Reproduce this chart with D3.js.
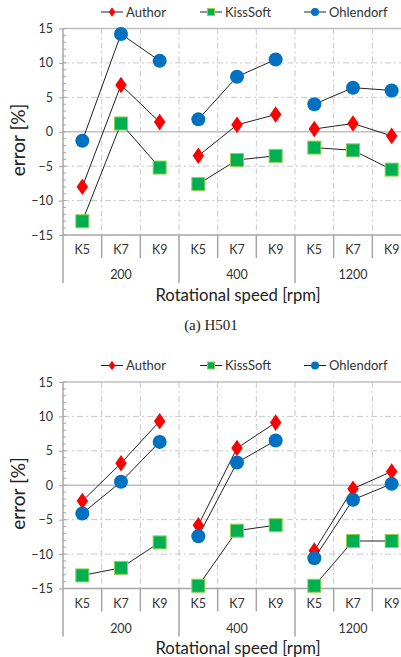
<!DOCTYPE html>
<html>
<head>
<meta charset="utf-8">
<script src="https://cdn.jsdelivr.net/npm/d3@7"></script>
<style>
  body { margin: 0; background: #fff; }
  svg { display: block; font-family: Lato, "Open Sans", sans-serif; }
</style>
</head>
<body>
<div id="chart"></div>
<script>
// categories
const speeds = ["200", "400", "1200"];
const kinds = ["K5", "K7", "K9"];
const seriesNames = ["Author", "KissSoft", "Ohlendorf"];
const yTicks = [-15, -10, -5, 0, 5, 10, 15];

// (a) H501 values, order 200 K5..K9, 400 K5..K9, 1200 K5..K9
const aAuthor = [-8.0, 6.8, 1.4, -3.5, 1.0, 2.5, 0.4, 1.2, -0.6];
const aKissSoft = [-13.0, 1.2, -5.2, -7.6, -4.1, -3.5, -2.3, -2.7, -5.5];
const aOhlendorf = [-1.3, 14.2, 10.3, 1.8, 8.0, 10.5, 4.0, 6.4, 6.0];

// (b) values
const bAuthor = [-2.3, 3.2, 9.3, -5.8, 5.4, 9.1, -9.5, -0.5, 2.0];
const bKissSoft = [-13.1, -12.0, -8.3, -14.6, -6.6, -5.8, -14.6, -8.1, -8.1];
const bOhlendorf = [-4.1, 0.5, 6.3, -7.4, 3.3, 6.5, -10.6, -2.1, 0.2];

const width = 401, height = 657;
const categories = [];
speeds.forEach(s => kinds.forEach(k => categories.push(s + "|" + k)));

const svg = d3.select("#chart").append("svg")
    .attr("width", width)
    .attr("height", height);

const colors = { Author: "#ff0000", KissSoft: "#00b050", Ohlendorf: "#0070c0" };
const axisGray = "#a6a6a6";

function marker(g, name, cx, cy, s) {
    if (name === "Author") {
        g.append("path")
            .attr("d", d3.symbol(d3.symbolDiamond, s * s * 0.55)())
            .attr("transform", `translate(${cx},${cy}) scale(1.2,1)`)
            .attr("fill", colors.Author);
    } else if (name === "KissSoft") {
        g.append("rect")
            .attr("x", cx - s / 2).attr("y", cy - s / 2)
            .attr("width", s).attr("height", s)
            .attr("fill", colors.KissSoft)
            .attr("stroke", "#92d050").attr("stroke-width", 1);
    } else {
        g.append("circle")
            .attr("cx", cx).attr("cy", cy).attr("r", s / 2)
            .attr("fill", colors.Ohlendorf);
    }
}

function drawChart(top, values, caption) {
    const g = svg.append("g");
    const plotTop = top + 28.5, plotBottom = top + 235;

    const x = d3.scaleBand().domain(categories).range([63, 411]);
    const y = d3.scaleLinear().domain([-15, 15]).range([plotBottom, plotTop]);

    // legend
    const legendX = [101, 200, 304];
    seriesNames.forEach((name, i) => {
        const lx = legendX[i], ly = top + 12;
        g.append("line").attr("x1", lx).attr("x2", lx + 22)
            .attr("y1", ly).attr("y2", ly)
            .attr("stroke", "#222").attr("stroke-width", 1);
        marker(g, name, lx + 11, ly, name === "Ohlendorf" ? 8 : 7);
        g.append("text").attr("x", lx + 25).attr("y", ly)
            .attr("dy", "0.35em").attr("font-size", 13).attr("fill", "#333")
            .text(name);
    });

    // horizontal gridlines
    g.append("g").selectAll("line")
        .data(yTicks.filter(d => d !== 0 && d !== -15 && d !== 15))
        .join("line")
        .attr("x1", 63).attr("x2", 411)
        .attr("y1", d => y(d)).attr("y2", d => y(d))
        .attr("stroke", "#c8c8c8").attr("stroke-dasharray", "6,3,2,3");

    // vertical gridlines
    g.append("g").selectAll("line")
        .data(categories.slice(1))
        .join("line")
        .attr("x1", d => x(d)).attr("x2", d => x(d))
        .attr("y1", plotTop).attr("y2", plotBottom)
        .attr("stroke", "#c8c8c8").attr("stroke-dasharray", "6,3,2,3");

    // top border, zero line
    [15, 0].forEach(v => {
        g.append("line").attr("x1", 63).attr("x2", 411)
            .attr("y1", y(v)).attr("y2", y(v))
            .attr("stroke", "#bfbfbf").attr("stroke-width", 1.5);
    });

    // y axis
    const yAxis = g.append("g")
        .attr("transform", "translate(63,0)")
        .call(d3.axisLeft(y).tickValues(yTicks).tickSize(4).tickPadding(6));
    yAxis.select(".domain").remove();
    yAxis.selectAll("line").attr("stroke", axisGray);
    yAxis.selectAll("text").attr("font-size", 12.5).attr("fill", "#333")
        .attr("font-family", "Lato, sans-serif");
    // minor ticks
    g.append("g").selectAll("line")
        .data(d3.range(-15, 16, 1))
        .join("line")
        .attr("x1", 63).attr("x2", 66)
        .attr("y1", d => y(d)).attr("y2", d => y(d))
        .attr("stroke", axisGray);
    g.append("line").attr("x1", 63).attr("x2", 63)
        .attr("y1", plotTop).attr("y2", top + 283)
        .attr("stroke", axisGray).attr("stroke-width", 1.5);

    // x axis line
    g.append("line").attr("x1", 63).attr("x2", 411)
        .attr("y1", plotBottom).attr("y2", plotBottom)
        .attr("stroke", axisGray).attr("stroke-width", 1.5);

    // category separators
    categories.slice(1).forEach((c, i) => {
        const isGroup = (i + 1) % 3 === 0;
        g.append("line").attr("x1", x(c)).attr("x2", x(c))
            .attr("y1", plotBottom).attr("y2", top + (isGroup ? 283 : 258))
            .attr("stroke", axisGray).attr("stroke-width", 1.5);
    });
    g.append("line").attr("x1", 411).attr("x2", 411)
        .attr("y1", plotBottom).attr("y2", top + 283)
        .attr("stroke", axisGray).attr("stroke-width", 1.5);

    // category labels
    g.append("g").selectAll("text")
        .data(categories)
        .join("text")
        .attr("x", d => x(d) + x.bandwidth() / 2)
        .attr("y", top + 250).attr("dy", "0.35em")
        .attr("text-anchor", "middle").attr("font-size", 12.5).attr("fill", "#333")
        .text(d => d.split("|")[1]);

    // group labels
    g.append("g").selectAll("text")
        .data(speeds)
        .join("text")
        .attr("x", s => x(s + "|K7") + x.bandwidth() / 2)
        .attr("y", top + 275).attr("dy", "0.35em")
        .attr("text-anchor", "middle").attr("font-size", 12.5).attr("fill", "#333")
        .text(s => s);

    // axis titles
    g.append("text")
        .attr("transform", `translate(18,${top + 140}) rotate(-90)`)
        .attr("text-anchor", "middle").attr("dy", "0.35em")
        .attr("font-size", 19).attr("fill", "#222")
        .text("error [%]");
    g.append("text")
        .attr("x", 238).attr("y", top + 295).attr("dy", "0.35em")
        .attr("text-anchor", "middle").attr("font-size", 16.7).attr("fill", "#222")
        .text("Rotational speed [rpm]");

    if (caption) {
        g.append("text")
            .attr("x", 211).attr("y", top + 325).attr("dy", "0.35em")
            .attr("text-anchor", "middle").attr("font-size", 15)
            .attr("font-family", "'Liberation Serif', serif").attr("fill", "#222")
            .text(caption);
    }

    // series
    const line = d3.line()
        .x(d => x(d.cat) + x.bandwidth() / 2)
        .y(d => y(d.v));
    seriesNames.forEach((name, si) => {
        const vals = values[si];
        const pts = categories.map((c, i) => ({ cat: c, v: vals[i] }));
        speeds.forEach((s, gi) => {
            g.append("path")
                .datum(pts.slice(gi * 3, gi * 3 + 3))
                .attr("d", line)
                .attr("fill", "none")
                .attr("stroke", "#222").attr("stroke-width", 1);
        });
        pts.forEach(p => {
            marker(g, name, x(p.cat) + x.bandwidth() / 2, y(p.v),
                name === "Ohlendorf" ? 14 : (name === "KissSoft" ? 13 : 12));
        });
    });
}

drawChart(0, [aAuthor, aKissSoft, aOhlendorf], "(a) H501");
drawChart(353.5, [bAuthor, bKissSoft, bOhlendorf], null);
</script>
</body>
</html>
